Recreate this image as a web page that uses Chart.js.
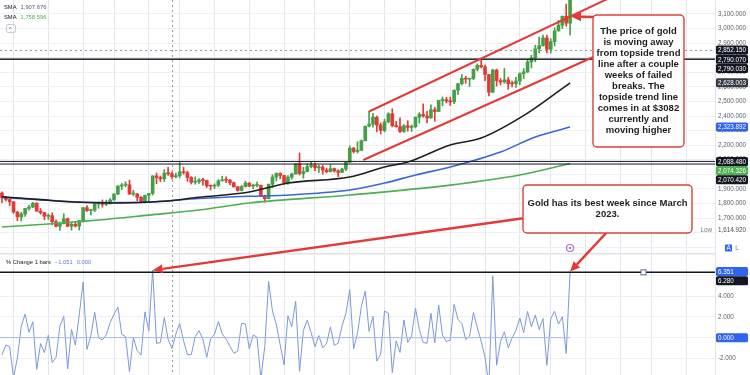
<!DOCTYPE html>
<html>
<head>
<meta charset="utf-8">
<script src="https://cdn.jsdelivr.net/npm/chart.js@4.4.1/dist/chart.umd.min.js"></script>
<style>
  html, body { margin: 0; padding: 0; background: #fff; }
</style>
</head>
<body>
<canvas id="gold" width="750" height="375"></canvas>
<script>
// Gold weekly bars, first bar = week of Mon 13 Jun 2022, last = week of Mon 7 Apr 2025
const firstMonday = '2022-06-13';
const emptyWeeks = 37;

const opens = [
  1871, 1840, 1827, 1811, 1742, 1708, 1727, 1766, 1775, 1802,
  1747, 1737, 1712, 1716, 1675, 1643, 1661, 1695, 1644, 1657,
  1645, 1681, 1771, 1751, 1754, 1797, 1797, 1793, 1798, 1824,
  1865, 1920, 1926, 1928, 1865, 1865, 1842, 1811, 1856, 1868,
  1989, 1978, 1969, 2007, 2004, 1983, 1990, 2017, 2011, 1978,
  1946, 1948, 1961, 1958, 1921, 1919, 1925, 1955, 1962, 1959,
  1943, 1914, 1889, 1915, 1940, 1919, 1924, 1925, 1849, 1833,
  1932, 1981, 2006, 1992, 1940, 1981, 2002, 2072, 2005, 2019,
  2053, 2063, 2045, 2049, 2029, 2018, 2039, 2024, 2013, 2036,
  2083, 2179, 2156, 2165, 2230, 2330, 2344, 2392, 2338, 2301,
  2360, 2415, 2334, 2327, 2294, 2333, 2322, 2326, 2392, 2411,
  2400, 2387, 2443, 2431, 2507, 2512, 2503, 2497, 2577, 2622,
  2658, 2653, 2657, 2721, 2747, 2737, 2685, 2563, 2715, 2643,
  2633, 2648, 2622, 2621, 2640, 2690, 2703, 2771, 2800, 2861,
  2883, 2936, 2858, 2910, 2984, 3023, 3084, 3037
];
const highs = [
  1879, 1847, 1830, 1814, 1745, 1739, 1767, 1788, 1807, 1805,
  1765, 1740, 1729, 1735, 1688, 1672, 1729, 1700, 1668, 1675,
  1683, 1774, 1786, 1761, 1804, 1810, 1824, 1823, 1833, 1866,
  1921, 1937, 1949, 1960, 1890, 1870, 1847, 1858, 1869, 1990,
  2009, 1988, 2032, 2048, 2016, 2009, 2081, 2048, 2022, 1984,
  1983, 1971, 1972, 1960, 1925, 1935, 1963, 1987, 1982, 1965,
  1948, 1916, 1924, 1953, 1943, 1933, 1947, 1926, 1858, 1933,
  1997, 2010, 2010, 1993, 1992, 2008, 2075, 2146, 2048, 2071,
  2088, 2078, 2062, 2062, 2042, 2066, 2043, 2031, 2041, 2088,
  2195, 2185, 2223, 2236, 2331, 2432, 2418, 2400, 2353, 2378,
  2422, 2450, 2364, 2388, 2342, 2368, 2339, 2393, 2424, 2483,
  2432, 2477, 2460, 2509, 2531, 2528, 2529, 2579, 2625, 2685,
  2673, 2658, 2722, 2758, 2790, 2750, 2686, 2721, 2722, 2657,
  2726, 2665, 2639, 2665, 2697, 2726, 2786, 2817, 2886, 2942,
  2955, 2956, 2930, 3005, 3057, 3087, 3168, 3245
];
const lows = [
  1805, 1816, 1785, 1732, 1681, 1680, 1711, 1754, 1771, 1746,
  1727, 1688, 1691, 1654, 1639, 1615, 1660, 1640, 1617, 1638,
  1617, 1672, 1746, 1721, 1744, 1767, 1774, 1785, 1795, 1823,
  1861, 1896, 1914, 1861, 1852, 1819, 1809, 1804, 1809, 1858,
  1935, 1950, 1950, 1992, 1969, 1975, 1977, 2001, 1952, 1933,
  1932, 1938, 1925, 1910, 1893, 1902, 1916, 1954, 1942, 1929,
  1912, 1885, 1885, 1913, 1915, 1901, 1913, 1847, 1810, 1831,
  1908, 1954, 1970, 1932, 1931, 1966, 2001, 1995, 1973, 2016,
  2043, 2025, 2013, 2001, 2010, 2016, 2015, 1984, 2011, 2025,
  2078, 2146, 2146, 2162, 2229, 2325, 2324, 2292, 2277, 2291,
  2353, 2325, 2324, 2286, 2287, 2296, 2294, 2319, 2352, 2392,
  2353, 2384, 2364, 2429, 2470, 2490, 2472, 2485, 2546, 2614,
  2624, 2603, 2649, 2709, 2730, 2643, 2537, 2560, 2605, 2613,
  2625, 2583, 2599, 2597, 2614, 2657, 2697, 2730, 2772, 2833,
  2879, 2833, 2832, 2880, 2982, 3000, 3016, 2957
];
const closes = [
  1840, 1827, 1811, 1742, 1708, 1727, 1766, 1775, 1802, 1747,
  1737, 1712, 1716, 1675, 1643, 1661, 1695, 1644, 1657, 1645,
  1681, 1771, 1751, 1754, 1797, 1797, 1793, 1798, 1824, 1865,
  1920, 1926, 1928, 1865, 1865, 1842, 1811, 1856, 1868, 1989,
  1978, 1969, 2007, 2004, 1983, 1990, 2017, 2011, 1978, 1946,
  1948, 1961, 1958, 1921, 1919, 1925, 1955, 1962, 1959, 1943,
  1914, 1889, 1915, 1940, 1919, 1924, 1925, 1849, 1833, 1932,
  1981, 2006, 1992, 1940, 1981, 2002, 2072, 2005, 2019, 2053,
  2063, 2045, 2049, 2029, 2018, 2039, 2024, 2013, 2036, 2083,
  2179, 2156, 2165, 2230, 2330, 2344, 2392, 2338, 2301, 2360,
  2415, 2334, 2327, 2294, 2333, 2322, 2326, 2392, 2411, 2400,
  2387, 2443, 2431, 2507, 2512, 2503, 2497, 2577, 2622, 2658,
  2653, 2657, 2721, 2747, 2737, 2685, 2563, 2715, 2643, 2633,
  2648, 2622, 2621, 2640, 2690, 2703, 2771, 2800, 2861, 2883,
  2936, 2858, 2910, 2984, 3023, 3084, 3037, 3230
];
// % Change 1 bars
const pctChange = [
  -1.66, -0.71, -0.88, -3.81, -1.95, 1.11, 2.26, 0.51, 1.52, -3.05,
  -0.57, -1.44, 0.23, -2.39, -1.91, 1.10, 2.05, -3.01, 0.79, -0.72,
  2.19, 5.35, -1.13, 0.17, 2.45, 0.00, -0.22, 0.28, 1.45, 2.25,
  2.95, 0.31, 0.10, -3.27, 0.00, -1.23, -1.68, 2.48, 0.65, 6.48,
  -0.55, -0.46, 1.93, -0.15, -1.05, 0.35, 1.36, -0.30, -1.64, -1.62,
  0.10, 0.67, -0.15, -1.89, -0.10, 0.31, 1.56, 0.36, -0.15, -0.82,
  -1.49, -1.31, 1.38, 1.31, -1.08, 0.26, 0.05, -3.95, -0.87, 5.40,
  2.54, 1.26, -0.70, -2.61, 2.11, 1.06, 3.50, -3.23, 0.70, 1.68,
  0.49, -0.87, 0.20, -0.98, -0.54, 1.04, -0.74, -0.54, 1.14, 2.31,
  4.61, -1.06, 0.42, 3.00, 4.48, 0.60, 2.05, -2.26, -1.58, 2.56,
  2.33, -3.35, -0.30, -1.42, 1.70, -0.47, 0.17, 2.84, 0.79, -0.46,
  -0.54, 2.35, -0.49, 3.13, 0.20, -0.36, -0.24, 3.20, 1.75, 1.37,
  -0.19, 0.15, 2.41, 0.96, -0.36, -1.90, -4.54, 5.93, -2.65, -0.38,
  0.57, -0.98, -0.04, 0.72, 1.89, 0.48, 2.52, 1.05, 2.18, 0.77,
  1.84, -2.66, 1.82, 2.54, 1.31, 2.02, -1.52, 6.35
];

// moving averages as [bar index, value]
const smaBlack = [[0, 1846], [10, 1826], [20, 1808], [31, 1803], [41, 1813], [51, 1842], [64, 1878],
  [74, 1940], [90, 1981], [99, 2050], [105, 2084], [116, 2201], [124, 2249], [136, 2420], [147, 2628]];
const smaBlue = [[0, 1842], [12, 1822], [25, 1806], [38, 1810], [51, 1834], [64, 1849], [73, 1856],
  [90, 1892], [99, 1940], [107, 1995], [116, 2050], [129, 2153], [138, 2256], [147, 2324]];
const smaGreen = [[0, 1638], [12, 1659], [25, 1686], [38, 1720], [51, 1755], [64, 1803], [90, 1858],
  [116, 1926], [134, 1995], [147, 2074]];

// drawings
const priceLines = [2790.07, 2790.03, 2088.48, 2070.42];
const changeLine = 6.28;
const trendUpper = [[95, 2431], [160, 3245]];
const trendLower = [[93.5, 2098], [153, 2805]];
const crossIndex = 44;
const crossPrice = 2852.15;
const lowPrice = 1614.92;
const note1 = ['The price of gold', 'is moving away', 'from topside trend', 'line after a couple',
  'weeks of failed', 'breaks. The', 'topside trend line', 'comes in at $3082', 'currently and', 'moving higher'];
const note2 = ['Gold has its best week since March', '2023.'];
const trendNow = 3082;

const priceTags = [
  { value: 2852.15, bg: '#131722' },
  { value: 2790.07, bg: '#131722' },
  { value: 2790.03, bg: '#131722' },
  { value: 2628.003, bg: '#363a45' },
  { value: 2323.892, bg: '#2f63f0' },
  { value: 2088.48, bg: '#131722' },
  { value: 2074.326, bg: '#4caf50' },
  { value: 2070.42, bg: '#131722' },
];
const changeTags = [
  { value: 6.351, bg: '#2f63f0' },
  { value: 6.28, bg: '#131722' },
  { value: 0, bg: '#2f63f0' },
];

const weeks = [];
const start = new Date(firstMonday + 'T00:00:00Z');
for (let i = 0; i < opens.length + emptyWeeks; i++) {
  weeks.push(new Date(start.getTime() + i * 7 * 864e5).toISOString().slice(0, 10));
}

const FONT = "'Liberation Sans', Arial, sans-serif";
const RED = '#e53935';
const up = '#43a047', down = '#e53935';
const candleColors = closes.map((c, i) => c >= opens[i] ? up : down);

function monthMark(i) {
  if (!weeks[i]) return false;
  const d = new Date(weeks[i] + 'T00:00:00Z');
  return d.getUTCDate() <= 7 && d.getUTCMonth() % 2 === 0;
}

function fmt(v) {
  return v.toLocaleString('en-US', { minimumFractionDigits: 3, maximumFractionDigits: 3 });
}

function roundBox(ctx, x, y, w, h, r) {
  ctx.beginPath();
  ctx.moveTo(x + r, y);
  ctx.arcTo(x + w, y, x + w, y + h, r);
  ctx.arcTo(x + w, y + h, x, y + h, r);
  ctx.arcTo(x, y + h, x, y, r);
  ctx.arcTo(x, y, x + w, y, r);
  ctx.closePath();
}

function arrow(ctx, x1, y1, x2, y2) {
  const a = Math.atan2(y2 - y1, x2 - x1);
  const head = 10, half = 4.5;
  const bx = x2 - head * Math.cos(a), by = y2 - head * Math.sin(a);
  ctx.strokeStyle = RED;
  ctx.lineWidth = 2.5;
  ctx.beginPath();
  ctx.moveTo(x1, y1);
  ctx.lineTo(bx, by);
  ctx.stroke();
  ctx.fillStyle = RED;
  ctx.beginPath();
  ctx.moveTo(x2, y2);
  ctx.lineTo(bx + half * Math.sin(a), by - half * Math.cos(a));
  ctx.lineTo(bx - half * Math.sin(a), by + half * Math.cos(a));
  ctx.closePath();
  ctx.fill();
}

function noteBox(ctx, x, y, w, h, lines) {
  roundBox(ctx, x, y, w, h, 4);
  ctx.fillStyle = '#fff';
  ctx.fill();
  ctx.strokeStyle = '#d9413b';
  ctx.lineWidth = 1.4;
  ctx.stroke();
  ctx.fillStyle = '#1e1e1e';
  ctx.font = 'bold 9.5px ' + FONT;
  ctx.textAlign = 'center';
  ctx.textBaseline = 'middle';
  const lh = 11;
  const top = y + h / 2 - (lines.length - 1) * lh / 2;
  lines.forEach((t, k) => ctx.fillText(t, x + w / 2, top + k * lh));
}

function drawTags(ctx, scale, tags) {
  let prev = -Infinity;
  [...tags].sort((a, b) => b.value - a.value).forEach(t => {
    const yc = Math.max(scale.getPixelForValue(t.value), prev + 9.2);
    prev = yc;
    ctx.fillStyle = t.bg;
    roundBox(ctx, scale.left + 1, yc - 4.5, 32, 9, 1.5);
    ctx.fill();
    ctx.fillStyle = '#fff';
    ctx.font = '6.3px ' + FONT;
    ctx.textAlign = 'left';
    ctx.textBaseline = 'middle';
    ctx.fillText(fmt(t.value), scale.left + 3, yc + 0.5);
  });
}

// legend line: pieces of [text, colour] laid out left to right
function legendRow(ctx, x, y, parts) {
  parts.forEach(([t, c]) => {
    ctx.fillStyle = c;
    ctx.fillText(t, x, y);
    x += ctx.measureText(t).width + 4;
  });
}

const overlay = {
  id: 'overlay',
  beforeDatasetsDraw(chart) {
    const { ctx, chartArea: a, scales: { x, y } } = chart;
    ctx.save();
    ctx.strokeStyle = '#9598a1';
    ctx.lineWidth = 1;
    ctx.setLineDash([2, 3]);
    const cx = Math.round(x.getPixelForValue(crossIndex)) + 0.5;
    ctx.beginPath();
    ctx.moveTo(cx, a.top);
    ctx.lineTo(cx, a.bottom);
    const cy = Math.round(y.getPixelForValue(crossPrice)) + 0.5;
    ctx.moveTo(a.left, cy);
    ctx.lineTo(a.right, cy);
    ctx.stroke();
    ctx.restore();
  },
  afterDatasetsDraw(chart) {
    const { ctx, chartArea: a, scales: { x, y, y2 } } = chart;
    ctx.save();

    // pane separator
    ctx.strokeStyle = '#e0e3eb';
    ctx.lineWidth = 1;
    ctx.beginPath();
    ctx.moveTo(a.left, Math.round(y.bottom) + 0.5);
    ctx.lineTo(a.right, Math.round(y.bottom) + 0.5);
    ctx.stroke();

    // zero line of the change pane
    ctx.strokeStyle = '#a9bbe8';
    ctx.beginPath();
    ctx.moveTo(a.left, y2.getPixelForValue(0));
    ctx.lineTo(x.getPixelForValue(opens.length - 1), y2.getPixelForValue(0));
    ctx.stroke();

    // horizontal lines
    ctx.strokeStyle = '#131722';
    ctx.lineWidth = 1;
    priceLines.forEach(v => {
      const py = y.getPixelForValue(v);
      ctx.beginPath();
      ctx.moveTo(a.left, py);
      ctx.lineTo(a.right, py);
      ctx.stroke();
    });
    const ly = y2.getPixelForValue(changeLine);
    ctx.lineWidth = 1.5;
    ctx.beginPath();
    ctx.moveTo(a.left, ly);
    ctx.lineTo(a.right, ly);
    ctx.stroke();
    const hx = x.getPixelForValue(166);
    ctx.fillStyle = '#fff';
    ctx.strokeStyle = '#5b6b8c';
    ctx.lineWidth = 1;
    ctx.fillRect(hx - 2.5, ly - 2.5, 5, 5);
    ctx.strokeRect(hx - 2.5, ly - 2.5, 5, 5);

    // trend channel
    ctx.save();
    ctx.beginPath();
    ctx.rect(a.left, y.top, a.right - a.left, y.bottom - y.top);
    ctx.clip();
    ctx.strokeStyle = RED;
    ctx.lineWidth = 2;
    [trendUpper, trendLower].forEach(([p, q]) => {
      ctx.beginPath();
      ctx.moveTo(x.getPixelForValue(p[0]), y.getPixelForValue(p[1]));
      ctx.lineTo(x.getPixelForValue(q[0]), y.getPixelForValue(q[1]));
      ctx.stroke();
    });
    ctx.restore();

    // event marker
    const last = opens.length - 1;
    const mx = x.getPixelForValue(last), my = y.bottom - 5;
    ctx.strokeStyle = '#b070c8';
    ctx.lineWidth = 1.2;
    ctx.beginPath();
    ctx.arc(mx, my, 3.5, 0, Math.PI * 2);
    ctx.stroke();
    ctx.fillStyle = '#b070c8';
    ctx.beginPath();
    ctx.arc(mx, my, 1.2, 0, Math.PI * 2);
    ctx.fill();

    // callouts
    const b1 = { x: 593, y: 15, w: 91, h: 132 };
    const b2 = { x: 523, y: 185, w: 169, h: 48 };
    arrow(ctx, b2.x + 2, 218, x.getPixelForValue(39), y2.getPixelForValue(pctChange[39]));
    arrow(ctx, 608, b2.y + b2.h - 2, x.getPixelForValue(last), y2.getPixelForValue(pctChange[last]));
    arrow(ctx, b1.x + 2, 17, x.getPixelForValue(last) + 1, y.getPixelForValue(trendNow));
    noteBox(ctx, b1.x, b1.y, b1.w, b1.h, note1);
    noteBox(ctx, b2.x, b2.y, b2.w, b2.h, note2);

    // pane legends
    ctx.textAlign = 'left';
    ctx.textBaseline = 'middle';
    ctx.font = '5.8px ' + FONT;
    legendRow(ctx, 4, 7, [['SMA', '#131722'], ['1,907.676', '#555a66']]);
    legendRow(ctx, 4, 17, [['SMA', '#131722'], ['1,758.596', '#4caf50']]);
    ctx.strokeStyle = '#c9ccd4';
    ctx.lineWidth = 1;
    roundBox(ctx, 6.5, 24.5, 9, 8, 1.5);
    ctx.stroke();
    ctx.fillStyle = '#555';
    ctx.fillText('^', 9, 29.5);

    legendRow(ctx, 6, y2.top + 9, [['% Change 1 bars', '#131722'], ['\u22121.051', '#5b7fd6'], ['0.000', '#5b7fd6']]);
    ctx.restore();
  },
  afterDraw(chart) {
    const { ctx, scales: { y, y2 } } = chart;
    ctx.save();
    drawTags(ctx, y, priceTags);
    drawTags(ctx, y2, changeTags);
    const lowY = y.getPixelForValue(lowPrice);
    ctx.font = '6.3px ' + FONT;
    ctx.textBaseline = 'middle';
    ctx.textAlign = 'right';
    ctx.fillStyle = '#787b86';
    ctx.fillText('Low', y.left - 3, lowY);
    ctx.textAlign = 'left';
    ctx.fillStyle = '#4a4e59';
    ctx.fillText(fmt(lowPrice), y.left + 3, lowY);
    // auto / log buttons
    const by = y.bottom - 5;
    ctx.fillStyle = '#2f63f0';
    roundBox(ctx, y.left + 10, by - 3.5, 7, 7, 1);
    ctx.fill();
    ctx.fillStyle = '#fff';
    ctx.textAlign = 'center';
    ctx.fillText('A', y.left + 13.5, by + 0.3);
    ctx.fillStyle = '#787b86';
    ctx.fillText('L', y.left + 22, by + 0.3);
    ctx.restore();
  }
};

const tickFont = { family: FONT, size: 6.3 };
const fitAxis = s => { s.width = 35; s.paddingTop = 0; s.paddingBottom = 0; };

new Chart(document.getElementById('gold'), {
  type: 'bar',
  data: {
    labels: weeks,
    datasets: [
      {
        type: 'line', label: 'SMA black', yAxisID: 'y', order: 1,
        data: smaBlack.map(([i, v]) => ({ x: weeks[i], y: v })),
        borderColor: '#1f1f1f', borderWidth: 1.6, pointRadius: 0, cubicInterpolationMode: 'monotone',
      },
      {
        type: 'line', label: 'SMA blue', yAxisID: 'y', order: 1,
        data: smaBlue.map(([i, v]) => ({ x: weeks[i], y: v })),
        borderColor: '#3a66d9', borderWidth: 1.6, pointRadius: 0, cubicInterpolationMode: 'monotone',
      },
      {
        type: 'line', label: 'SMA green', yAxisID: 'y', order: 1,
        data: smaGreen.map(([i, v]) => ({ x: weeks[i], y: v })),
        borderColor: '#4caf50', borderWidth: 1.6, pointRadius: 0, cubicInterpolationMode: 'monotone',
      },
      {
        type: 'bar', label: 'wicks', yAxisID: 'y', order: 3, grouped: false,
        data: lows.map((l, i) => [l, highs[i]]),
        backgroundColor: candleColors, barThickness: 1,
      },
      {
        type: 'bar', label: 'bodies', yAxisID: 'y', order: 2, grouped: false,
        data: opens.map((o, i) => [o, closes[i]]),
        backgroundColor: candleColors, barThickness: 3, minBarLength: 1,
      },
      {
        type: 'line', label: '% Change 1 bars', yAxisID: 'y2', order: 1,
        data: pctChange,
        borderColor: '#7d98d8', borderWidth: 1, pointRadius: 0, tension: 0,
      },
    ],
  },
  options: {
    responsive: false,
    animation: false,
    devicePixelRatio: 1,
    events: [],
    layout: { padding: 0 },
    plugins: { legend: { display: false }, tooltip: { enabled: false } },
    scales: {
      x: {
        type: 'category',
        offset: true,
        ticks: { display: false, autoSkip: false },
        grid: {
          offset: false, drawTicks: false, lineWidth: 1,
          color: ctx => monthMark(ctx.index) ? '#e3e6ec' : 'rgba(0,0,0,0)',
        },
        border: { display: false },
        afterFit: s => { s.height = 0; },
      },
      y: {
        type: 'linear', position: 'right', stack: 'panes', stackWeight: 253,
        min: 1460, max: 3196,
        ticks: {
          stepSize: 100, padding: 3, color: '#5d606b', font: tickFont, autoSkip: false, includeBounds: false,
          callback: v => (v % 100 === 0 && v >= 1700) ? fmt(v) : '',
        },
        grid: { color: '#eef0f4', drawTicks: false },
        border: { color: '#e0e3eb' },
        afterFit: fitAxis,
      },
      y2: {
        type: 'linear', position: 'right', stack: 'panes', stackWeight: 122,
        min: -3.59, max: 8.14,
        ticks: {
          stepSize: 2, padding: 3, color: '#5d606b', font: tickFont, autoSkip: false, includeBounds: false,
          callback: v => (Number.isInteger(v) && v % 2 === 0 && v <= 6) ? fmt(v) : '',
        },
        grid: { color: '#eef0f4', drawTicks: false },
        border: { color: '#e0e3eb' },
        afterFit: fitAxis,
      },
    },
  },
  plugins: [overlay],
});
</script>
</body>
</html>
